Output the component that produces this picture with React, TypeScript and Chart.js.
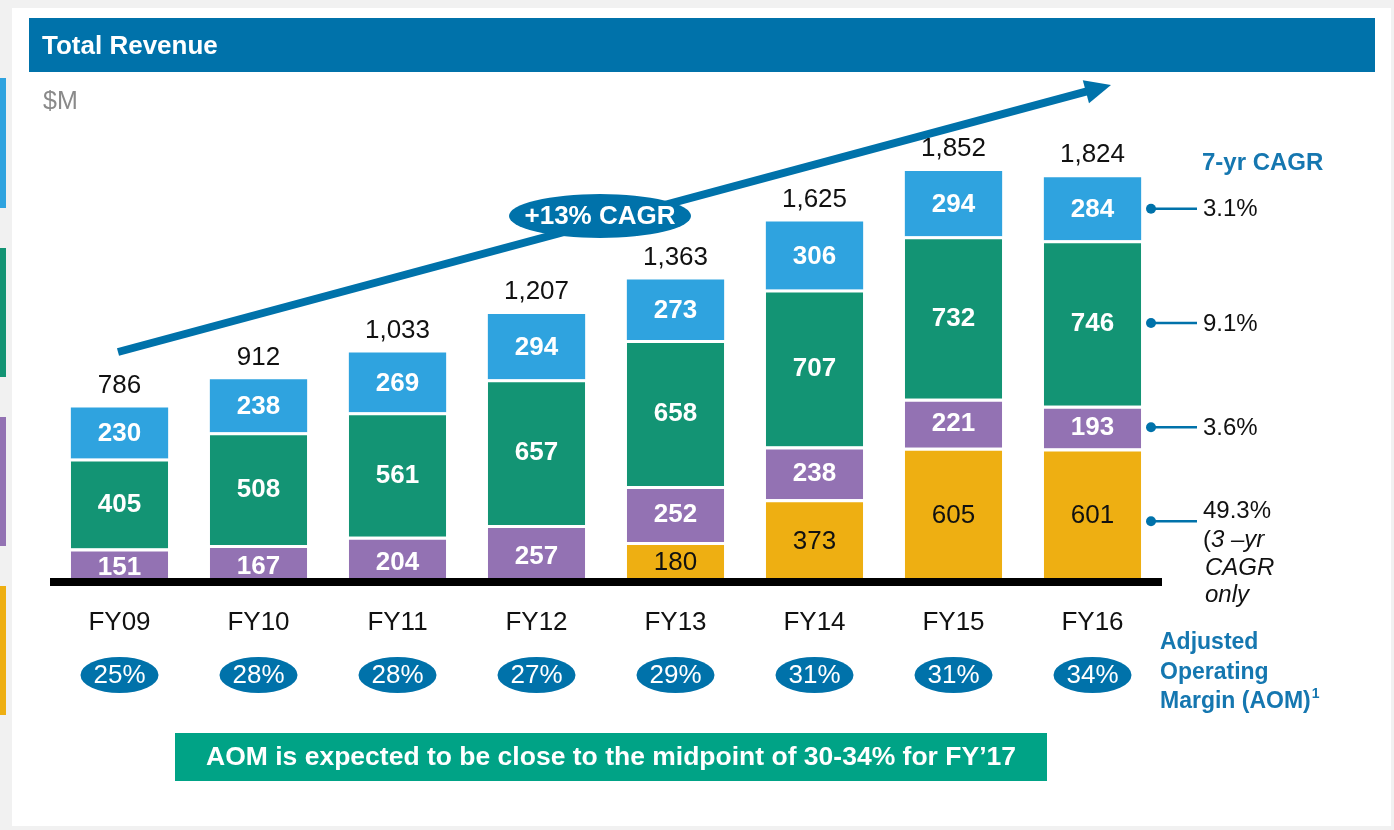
import { useEffect, useRef } from 'react';
import { Chart, registerables } from 'chart.js';
Chart.register(...registerables);

const categories = ['FY09', 'FY10', 'FY11', 'FY12', 'FY13', 'FY14', 'FY15', 'FY16'];
const newSeg = [null, null, null, null, 180, 373, 605, 601];
const purpleSeg = [151, 167, 204, 257, 252, 238, 221, 193];
const greenSeg = [405, 508, 561, 657, 658, 707, 732, 746];
const blueSeg = [230, 238, 269, 294, 273, 306, 294, 284];
const totals = [786, 912, 1033, 1207, 1363, 1625, 1852, 1824];
const aomLabels = ['25%', '28%', '28%', '27%', '29%', '31%', '31%', '34%'];
const cagrLabels = ['3.1%', '9.1%', '3.6%', '49.3%'];

const C_BLUE = '#2fa3df';
const C_GREEN = '#139474';
const C_PURPLE = '#9372b3';
const C_YELLOW = '#eeaf12';
const C_DARK = '#0072aa';
const C_TEXTBLUE = '#1577b0';
const FONT = '"Liberation Sans", Arial, sans-serif';

const fmt = (v: number) => v.toLocaleString('en-US');

const decor = {
  id: 'decor',
  beforeDraw(chart: any) {
    const ctx = chart.ctx;
    ctx.save();
    ctx.fillStyle = '#f1f1f1';
    ctx.fillRect(0, 0, 1394, 830);
    ctx.fillStyle = '#ffffff';
    ctx.fillRect(12, 8, 1379, 818);
    // left edge strips
    ctx.fillStyle = C_BLUE; ctx.fillRect(0, 78, 6, 130);
    ctx.fillStyle = C_GREEN; ctx.fillRect(0, 248, 6, 129);
    ctx.fillStyle = C_PURPLE; ctx.fillRect(0, 417, 6, 129);
    ctx.fillStyle = C_YELLOW; ctx.fillRect(0, 586, 6, 129);
    // title bar
    ctx.fillStyle = C_DARK;
    ctx.fillRect(29, 18, 1346, 54);
    ctx.fillStyle = '#ffffff';
    ctx.font = `bold 26px ${FONT}`;
    ctx.textBaseline = 'middle';
    ctx.textAlign = 'left';
    ctx.fillText('Total Revenue', 42, 47);
    ctx.fillStyle = '#8a8a8a';
    ctx.font = `25px ${FONT}`;
    ctx.fillText('$M', 43, 102);
    // arrow
    const x0 = 118, y0 = 352, tx = 1111, ty = 85;
    const ang = Math.atan2(ty - y0, tx - x0);
    const hl = 26, hw = 12;
    const bx = tx - hl * Math.cos(ang), by = ty - hl * Math.sin(ang);
    ctx.strokeStyle = C_DARK;
    ctx.lineWidth = 8;
    ctx.beginPath();
    ctx.moveTo(x0, y0);
    ctx.lineTo(bx + 2 * Math.cos(ang), by + 2 * Math.sin(ang));
    ctx.stroke();
    ctx.fillStyle = C_DARK;
    ctx.beginPath();
    ctx.moveTo(tx, ty);
    ctx.lineTo(bx + hw * Math.sin(ang), by - hw * Math.cos(ang));
    ctx.lineTo(bx - hw * Math.sin(ang), by + hw * Math.cos(ang));
    ctx.closePath();
    ctx.fill();
    // CAGR ellipse
    ctx.beginPath();
    ctx.ellipse(600, 216, 91, 22, 0, 0, Math.PI * 2);
    ctx.fill();
    ctx.fillStyle = '#ffffff';
    ctx.font = `bold 26px ${FONT}`;
    ctx.textAlign = 'center';
    ctx.fillText('+13% CAGR', 600, 217);
    ctx.restore();
  },
  afterDatasetsDraw(chart: any) {
    const ctx = chart.ctx;
    const yScale = chart.scales.y;
    const xScale = chart.scales.x;
    ctx.save();
    // baseline
    const base = yScale.getPixelForValue(0);
    ctx.fillStyle = '#000000';
    ctx.fillRect(50, base - 4, 1112, 8);
    ctx.textBaseline = 'middle';
    ctx.textAlign = 'center';
    // segment labels
    chart.data.datasets.forEach((ds: any, di: number) => {
      const meta = chart.getDatasetMeta(di);
      meta.data.forEach((bar: any, i: number) => {
        const v = ds.data[i];
        if (v == null) return;
        let cy = (bar.y + bar.base) / 2;
        if (di === 0) {
          ctx.fillStyle = '#111111';
          ctx.font = `26px ${FONT}`;
        } else {
          ctx.fillStyle = '#ffffff';
          ctx.font = `bold 26px ${FONT}`;
        }
        if (di === 1 && i < 4) cy += 2;
        ctx.fillText(String(v), bar.x, cy + 1);
      });
    });
    // totals, categories, AOM ellipses
    totals.forEach((t, i) => {
      const x = xScale.getPixelForValue(i);
      const topY = yScale.getPixelForValue(t);
      ctx.fillStyle = '#111111';
      ctx.font = `26px ${FONT}`;
      ctx.fillText(fmt(t), x, topY - 22);
      ctx.fillText(categories[i], x, 623);
      ctx.fillStyle = C_DARK;
      ctx.beginPath();
      ctx.ellipse(x, 675, 39, 18, 0, 0, Math.PI * 2);
      ctx.fill();
      ctx.fillStyle = '#ffffff';
      ctx.font = `26px ${FONT}`;
      ctx.fillText(aomLabels[i], x, 676);
    });
    // 7-yr CAGR column
    ctx.textAlign = 'left';
    ctx.fillStyle = C_TEXTBLUE;
    ctx.font = `bold 24px ${FONT}`;
    ctx.fillText('7-yr CAGR', 1202, 163);
    const order = [3, 2, 1, 0];
    order.forEach((di, k) => {
      const meta = chart.getDatasetMeta(di);
      const bar: any = meta.data[7];
      let y = (bar.y + bar.base) / 2;
      if (di === 0) y += 6;
      ctx.strokeStyle = C_DARK;
      ctx.fillStyle = C_DARK;
      ctx.lineWidth = 2.5;
      ctx.beginPath();
      ctx.moveTo(1151, y);
      ctx.lineTo(1197, y);
      ctx.stroke();
      ctx.beginPath();
      ctx.arc(1151, y, 5, 0, Math.PI * 2);
      ctx.fill();
      ctx.fillStyle = '#111111';
      ctx.font = `24px ${FONT}`;
      if (di !== 0) {
        ctx.fillText(cagrLabels[k], 1203, y + 1);
      } else {
        ctx.fillText(cagrLabels[k], 1203, y - 10);
        ctx.fillText('(', 1203, y + 19);
        const pw = ctx.measureText('(').width;
        ctx.font = `italic 24px ${FONT}`;
        ctx.fillText('3 \u2013yr', 1203 + pw, y + 19);
        ctx.fillText('CAGR', 1205, y + 47);
        ctx.fillText('only', 1205, y + 74);
      }
    });
    // AOM legend text
    ctx.fillStyle = C_TEXTBLUE;
    ctx.font = `bold 23px ${FONT}`;
    ctx.fillText('Adjusted', 1160, 643);
    ctx.fillText('Operating', 1160, 673);
    ctx.fillText('Margin (AOM)', 1160, 702);
    const mw = ctx.measureText('Margin (AOM)').width;
    ctx.font = `bold 14px ${FONT}`;
    ctx.fillText('1', 1161 + mw, 694);
    // bottom banner
    ctx.fillStyle = '#00a386';
    ctx.fillRect(175, 733, 872, 48);
    ctx.fillStyle = '#ffffff';
    ctx.font = `bold 26px ${FONT}`;
    const msg = 'AOM is expected to be close to the midpoint of 30-34% for FY\u201917';
    const w = ctx.measureText(msg).width;
    const target = 810;
    ctx.translate(611, 758);
    ctx.scale(target / w, 1);
    ctx.textAlign = 'center';
    ctx.fillText(msg, 0, 0);
    ctx.restore();
  },
};

export default function App() {
  const ref = useRef<HTMLCanvasElement>(null);
  useEffect(() => {
    document.body.style.margin = '0';
    const border = { top: 3, bottom: 0, left: 0, right: 0 };
    const chart = new Chart(ref.current!, {
      type: 'bar',
      data: {
        labels: categories,
        datasets: [
          { label: 'New', data: newSeg as any, backgroundColor: C_YELLOW, borderColor: '#ffffff', borderWidth: border, borderSkipped: false },
          { label: 'Purple', data: purpleSeg, backgroundColor: C_PURPLE, borderColor: '#ffffff', borderWidth: border, borderSkipped: false },
          { label: 'Green', data: greenSeg, backgroundColor: C_GREEN, borderColor: '#ffffff', borderWidth: border, borderSkipped: false },
          { label: 'Blue', data: blueSeg, backgroundColor: C_BLUE, borderColor: '#ffffff', borderWidth: { top: 0, bottom: 0, left: 0, right: 0 }, borderSkipped: false },
        ],
      },
      options: {
        animation: false,
        responsive: false,
        devicePixelRatio: 1,
        layout: { padding: { top: 139, bottom: 248, left: 50, right: 232 } },
        plugins: { legend: { display: false }, tooltip: { enabled: false } },
        scales: {
          x: { stacked: true, display: false, grid: { display: false } },
          y: { stacked: true, display: false, min: 0, max: 1996, grid: { display: false } },
        },
        datasets: { bar: { barPercentage: 0.7, categoryPercentage: 1 } },
      } as any,
      plugins: [decor],
    });
    return () => chart.destroy();
  }, []);
  return (
    <div style={{ position: 'fixed', left: 0, top: 0, width: 1394, height: 830 }}>
      <canvas ref={ref} width={1394} height={830} />
    </div>
  );
}
